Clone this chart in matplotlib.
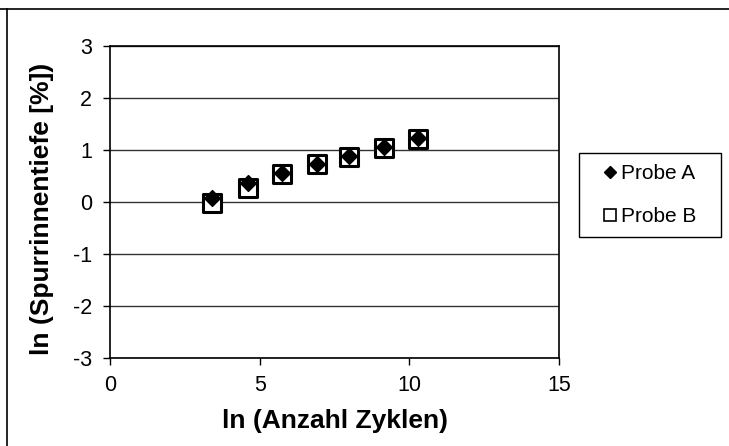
import matplotlib
matplotlib.use("Agg")
import matplotlib.pyplot as plt
from matplotlib.lines import Line2D
from matplotlib.patches import Rectangle

plt.rcParams['font.family'] = ['Liberation Sans', 'DejaVu Sans']
plt.rcParams['axes.unicode_minus'] = False

x_vals = [3.4, 4.6, 5.75, 6.9, 8.0, 9.15, 10.3]
probe_a = [0.07, 0.37, 0.55, 0.74, 0.89, 1.05, 1.23]
probe_b = [-0.02, 0.27, 0.54, 0.73, 0.87, 1.04, 1.21]
x_ticks = [0, 5, 10, 15]
y_ticks = [-3, -2, -1, 0, 1, 2, 3]

W, H = 729, 446
fig = plt.figure(figsize=(W/100, H/100), dpi=100)
ax = fig.add_axes([110/W, 1-358/H, (559-110)/W, (358-46)/H])

ax.scatter(x_vals, probe_b, marker='s', s=155, facecolor='white', edgecolor='black', linewidth=2.2, zorder=3)
ax.scatter(x_vals, probe_a, marker='D', s=65, facecolor='black', edgecolor='black', zorder=4)

ax.set_xlim(0, 15)
ax.set_ylim(-3, 3)
ax.set_xticks(x_ticks)
ax.set_yticks(y_ticks)
ax.grid(axis='y', color='#333333', linewidth=1.0)
ax.set_axisbelow(True)
for s in ax.spines.values():
    s.set_linewidth(1.2)
ax.tick_params(axis='both', labelsize=15.5, length=5, width=1, direction='out')
ax.tick_params(axis='x', pad=7.5)
ax.tick_params(axis='y', pad=8)
ax.set_xlabel('ln (Anzahl Zyklen)', fontsize=19, fontweight='bold')
ax.set_ylabel('ln (Spurrinnentiefe [%])', fontsize=19, fontweight='bold')
ax.xaxis.set_label_coords(0.5, (358-409)/312)
ax.yaxis.set_label_coords((54-110)/449, (358-209)/312)

# legend box
bx0, by0, bx1, by1 = 579, 153, 721, 237
fig.add_artist(Rectangle((bx0/W, 1-by1/H), (bx1-bx0)/W, (by1-by0)/H,
                         transform=fig.transFigure, facecolor='white', edgecolor='black', linewidth=1.0))
handles = [Line2D([], [], marker='D', color='black', linestyle='none', markersize=6),
           Line2D([], [], marker='s', markerfacecolor='white', markeredgecolor='black', linestyle='none', markersize=8, markeredgewidth=1.2)]
leg = fig.legend(handles, ['Probe A', 'Probe B'], loc='center',
                 bbox_to_anchor=(bx0/W, 1-by1/H, (bx1-bx0)/W, (by1-by0)/H),
                 fontsize=15, frameon=False, handlelength=0.6, handletextpad=0.25,
                 labelspacing=1.15, borderpad=0.0)

fig.add_artist(Line2D([0, 1], [1-9/H, 1-9/H], transform=fig.transFigure, color='black', linewidth=1.2))
fig.add_artist(Line2D([7/W, 7/W], [0, 1-9/H], transform=fig.transFigure, color='black', linewidth=1.2))

fig.savefig('out.png', dpi=100)
